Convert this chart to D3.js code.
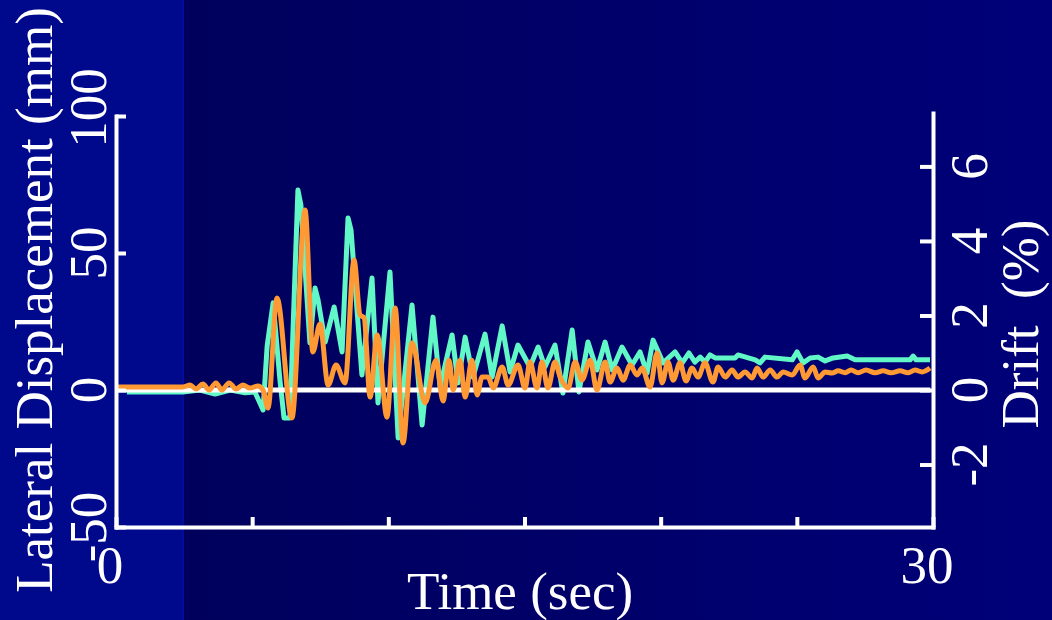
<!DOCTYPE html>
<html>
<head>
<meta charset="utf-8">
<script src="https://cdn.jsdelivr.net/npm/d3@7"></script>
<style>
  html, body { margin: 0; padding: 0; background: #00005e; }
  svg { display: block; font-family: "Liberation Serif", "Times New Roman", serif; }
</style>
</head>
<body>
<svg id="chart" width="1052" height="620"></svg>
<script>
// -------------------------------------------------------------------------
// Data (time in sec, displacement in mm)

// cyan trace
const cyanTime = [0.40, 2.46, 3.08, 3.64, 4.19, 4.74, 5.10, 5.40, 5.55, 5.77, 6.02, 6.17, 6.39, 6.50, 6.68, 6.79,
  7.12, 7.31, 7.42, 7.68, 8.01, 8.30, 8.52, 8.63, 9.03, 9.40, 9.62, 10.06, 10.36, 10.87, 11.24, 11.64, 11.90,
  12.34, 12.56, 12.82, 13.11, 13.55, 13.81, 14.18, 14.47, 14.76, 15.20, 15.50, 15.75, 16.12, 16.41, 16.75, 17.00,
  17.33, 17.66, 17.96, 18.22, 18.58, 18.95, 19.24, 19.50, 19.72, 20.09, 20.53, 20.79, 21.04, 21.26, 21.45, 21.63,
  21.81, 22.00, 22.73, 22.84, 23.47, 23.65, 23.83, 24.83, 25.01, 25.23, 25.49, 25.78, 26.04, 26.33, 26.85, 27.14,
  29.16, 29.27, 29.38, 29.89];
const cyanDisp = [-0.7, -0.7, 0, -1.5, 0, -1, -0.7, -7.3, 16, 31.8, 3.6, -10.2, -10.2, 22, 73, 67.5,
  17.2, 37.2, 32.8, 17.5, 30.3, 13.9, 62.8, 58.4, 5.5, 40.9, -4.7, 43.1, -17.5, 31, -12.8, 26.6, 1.1,
  20.1, 2.6, 19.3, 4.7, 20.4, 4.7, 23.4, 6.6, 16.4, 8.4, 15.7, 8.4, 16.4, -1.1, 21.9, -0.7,
  17.5, 7.3, 17.5, 7.3, 15.7, 9.1, 13.9, 6.2, 18.2, 9.9, 13.9, 9.9, 13.5, 10.2, 12, 10.2,
  12.8, 11.7, 11.7, 12.8, 11, 9.9, 12, 11, 13.9, 9.9, 11.7, 12, 10.6, 11.7, 12.4, 11,
  11, 12.4, 11, 11];

// orange trace
const orangeTime = [0.04, 2.46, 2.72, 2.94, 3.19, 3.42, 3.67, 3.89, 4.15, 4.41, 4.66, 4.92, 5.21, 5.40, 5.58, 5.91,
  6.46, 6.94, 7.23, 7.49, 7.79, 8.08, 8.41, 8.74, 8.96, 9.11, 9.33, 9.59, 9.95, 10.25, 10.54, 10.87, 11.35, 11.75,
  12.01, 12.23, 12.38, 12.63, 12.82, 13.07, 13.26, 13.44, 13.66, 13.85, 14.18, 14.40, 14.76, 15.02, 15.20, 15.46,
  15.64, 15.86, 16.12, 16.31, 16.60, 16.86, 17.11, 17.41, 17.66, 17.96, 18.14, 18.40, 18.62, 18.88, 19.13, 19.32,
  19.61, 19.87, 20.05, 20.27, 20.46, 20.71, 20.93, 21.15, 21.37, 21.63, 21.92, 22.11, 22.37, 22.62, 22.84, 23.10,
  23.36, 23.54, 23.76, 24.02, 24.27, 24.50, 24.83, 25.12, 25.30, 25.60, 25.78, 26.04, 26.29, 26.52, 26.77, 26.99,
  27.25, 27.54, 27.87, 28.17, 28.46, 28.79, 29.09, 29.34, 29.60, 29.89];
const orangeDisp = [1.1, 1.1, 1.8, 0.4, 2.2, 0, 2.6, 0, 2.6, 0.4, 1.8, 0.7, 1.5, 0, -6.6, 33.6,
  -10.2, 65.7, 13.9, 24.1, 1.8, 9.1, 2.6, 47.4, 27.4, 26.3, -2.6, 20.1, -9.9, 29.9, -19.3, 17.2, -4.7, 10.9,
  -4, 10.9, 0, 10.9, -2.6, 10.9, -1.8, 4.7, 4.7, 0.7, 8.4, 1.8, 9.1, 0.7, 10.2, 0.7,
  10.2, 0.7, 10.2, 4.7, 0.7, 10.2, 3.6, 10.9, 0, 10.2, 2.9, 8, 3.6, 9.1, 5.5, 8,
  1.1, 13.5, 2.6, 10.2, 3.6, 9.9, 3.3, 8, 4.7, 9.9, 2.9, 8.4, 4.7, 7.3, 4.7, 6.6,
  4.4, 8, 4.7, 7.3, 4.7, 6.6, 5.5, 9.1, 4.4, 8.4, 4.4, 6.6, 6.2, 7.0, 6.3, 7.3,
  6.3, 7.3, 6.3, 7.0, 6.3, 7.0, 6.3, 7.3, 6.6, 8];

// axes
const timeTicks = [0, 5, 10, 15, 20, 25, 30];
const timeLabels = [0, 30];
const dispTicks = [-50, 0, 50, 100];
const driftTicks = [-2, 0, 2, 4, 6];
const mmPerDrift = 13.6; // mm of displacement per 1 % drift

// -------------------------------------------------------------------------
// Layout

const width = 1052;
const height = 620;
const plotLeft = 116, plotRight = 933, plotBottom = 527, plotTop = 116, driftTop = 113;
const white = '#ffffff';
const cyan = '#62f7c6';
const orange = '#ff9933';

const svg = d3.select('#chart');

// background: lighter strip on the left, dark gradient for the rest
const defs = svg.append('defs');
const grad = defs.append('linearGradient').attr('id', 'bg').attr('x1', 0).attr('x2', 1).attr('y1', 0).attr('y2', 0);
grad.append('stop').attr('offset', '0%').attr('stop-color', '#00005c');
grad.append('stop').attr('offset', '100%').attr('stop-color', '#000079');

svg.append('rect').attr('x', 184).attr('y', 0).attr('width', width - 184).attr('height', height).attr('fill', 'url(#bg)');
svg.append('rect').attr('x', 0).attr('y', 0).attr('width', 184).attr('height', height).attr('fill', '#00088c');
svg.append('rect').attr('x', 182).attr('y', 0).attr('width', 2).attr('height', height).attr('fill', '#000c9c');

// scales
const x = d3.scaleLinear().domain([0, 30]).range([plotLeft, plotRight]);
const y = d3.scaleLinear().domain([-50, 100]).range([plotBottom, plotTop]);
const yDrift = d3.scaleLinear()
  .domain([y.invert(plotBottom) / mmPerDrift, y.invert(driftTop) / mmPerDrift])
  .range([plotBottom, driftTop]);

const zip = (ts, vs) => ts.slice(0, Math.min(ts.length, vs.length)).map((t, i) => [t, vs[i]]);

// cyan trace (under the zero line)
svg.append('path')
  .datum(zip(cyanTime, cyanDisp))
  .attr('fill', 'none')
  .attr('stroke', cyan)
  .attr('stroke-width', 5)
  .attr('stroke-linejoin', 'round')
  .attr('d', d3.line().x(d => x(d[0])).y(d => y(d[1])));

// zero line
svg.append('line')
  .attr('x1', x(0)).attr('x2', x(29.9))
  .attr('y1', y(0)).attr('y2', y(0))
  .attr('stroke', white)
  .attr('stroke-width', 5);

// orange trace
svg.append('path')
  .datum(zip(orangeTime, orangeDisp))
  .attr('fill', 'none')
  .attr('stroke', orange)
  .attr('stroke-width', 5)
  .attr('stroke-linejoin', 'round')
  .attr('d', d3.line().curve(d3.curveMonotoneX).x(d => x(d[0])).y(d => y(d[1])));

// axes, ticks pointing inwards
function styleAxis(g) {
  g.select('.domain').attr('stroke', white).attr('stroke-width', 4).attr('stroke-linecap', 'square');
  g.selectAll('.tick line').attr('stroke', white).attr('stroke-width', 4);
  g.selectAll('.tick text').remove();
}

svg.append('g')
  .attr('transform', `translate(0,${plotBottom})`)
  .call(d3.axisBottom(x).tickValues(timeTicks).tickSizeInner(-10).tickSizeOuter(0))
  .call(styleAxis);

svg.append('g')
  .attr('transform', `translate(${plotLeft},0)`)
  .call(d3.axisLeft(y).tickValues(dispTicks).tickSizeInner(-10).tickSizeOuter(0))
  .call(styleAxis);

svg.append('g')
  .attr('transform', `translate(${plotRight},0)`)
  .call(d3.axisRight(yDrift).tickValues(driftTicks).tickSizeInner(-13).tickSizeOuter(0))
  .call(styleAxis);

// labels
const fontSize = 53;

svg.selectAll('.disp-label')
  .data(dispTicks)
  .enter()
  .append('text')
  .attr('class', 'disp-label')
  .attr('transform', d => `translate(106,${y(d) - (d === 100 ? 8 : 0)}) rotate(-90)`)
  .attr('text-anchor', 'middle')
  .attr('font-size', fontSize)
  .attr('fill', white)
  .text(d => d);

svg.selectAll('.drift-label')
  .data(driftTicks)
  .enter()
  .append('text')
  .attr('class', 'drift-label')
  .attr('transform', d => `translate(987,${yDrift(d)}) rotate(-90)`)
  .attr('text-anchor', 'middle')
  .attr('font-size', fontSize)
  .attr('fill', white)
  .text(d => d);

svg.selectAll('.time-label')
  .data(timeLabels)
  .enter()
  .append('text')
  .attr('class', 'time-label')
  .attr('x', d => x(d) - 6)
  .attr('y', 583)
  .attr('text-anchor', 'middle')
  .attr('font-size', fontSize)
  .attr('fill', white)
  .text(d => d);

svg.append('text')
  .attr('x', 520)
  .attr('y', 609)
  .attr('text-anchor', 'middle')
  .attr('font-size', fontSize)
  .attr('fill', white)
  .text('Time (sec)');

svg.append('text')
  .attr('transform', 'translate(52,300) rotate(-90)')
  .attr('text-anchor', 'middle')
  .attr('font-size', fontSize)
  .attr('fill', white)
  .text('Lateral Displacement (mm)');

svg.append('text')
  .attr('transform', 'translate(1038,324) rotate(-90)')
  .attr('text-anchor', 'middle')
  .attr('font-size', fontSize)
  .attr('fill', white)
  .style('white-space', 'pre')
  .text('Drift  (%)');
</script>
</body>
</html>
